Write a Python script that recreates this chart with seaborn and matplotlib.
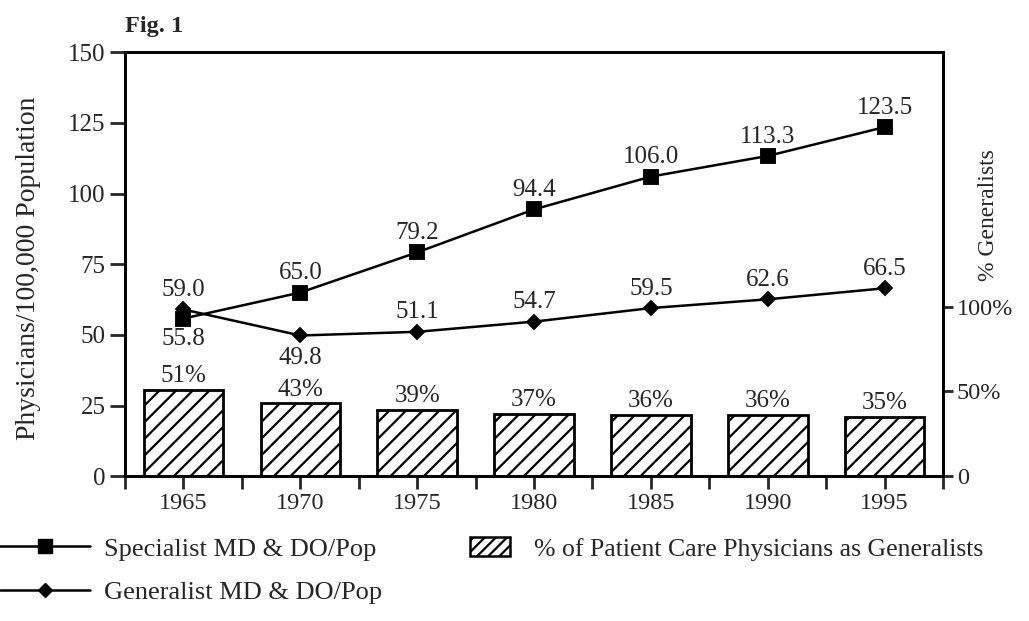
import matplotlib
matplotlib.use('Agg')
import matplotlib.pyplot as plt
import numpy as np
import pandas as pd
import seaborn as sns
from matplotlib.lines import Line2D
from matplotlib.patches import Patch

# Data
years = ['1965', '1970', '1975', '1980', '1985', '1990', '1995']
specialist = [55.8, 65.0, 79.2, 94.4, 106.0, 113.3, 123.5]
generalist = [59.0, 49.8, 51.1, 54.7, 59.5, 62.6, 66.5]
pct_generalists = [51, 43, 39, 37, 36, 36, 35]

df = pd.DataFrame({'year': years, 'specialist': specialist,
                   'generalist': generalist, 'pct': pct_generalists})

sns.set_style('ticks')
plt.rcParams['font.family'] = ['Liberation Serif', 'DejaVu Serif']
plt.rcParams['hatch.linewidth'] = 1.6
plt.rcParams['hatch.color'] = 'black'

fig = plt.figure(figsize=(10.29, 6.21), dpi=100)
ax = fig.add_axes([0.1215, 0.233, 0.795, 0.683])
ax2 = ax.twinx()

# bars: % generalists on right axis
sns.barplot(data=df, x='year', y='pct', ax=ax2, color='white', saturation=1,
            edgecolor='black', linewidth=2, hatch='//', width=0.68, errorbar=None)
ax2.bar_label(ax2.containers[0], labels=[f'{p}%' for p in pct_generalists],
              padding=2, fontsize=18)

# lines on the left axis
sns.pointplot(data=df, x='year', y='specialist', ax=ax, color='black', markers='s',
              linestyles='-', markersize=10, linewidth=1.8, errorbar=None)
sns.pointplot(data=df, x='year', y='generalist', ax=ax, color='black', markers='D',
              linestyles='-', markersize=7.5, linewidth=1.8, errorbar=None)

ax.set_zorder(ax2.get_zorder() + 1)
ax.patch.set_visible(False)

# value labels (1965 specialist and 1970 generalist sit below their markers)
for i, v in enumerate(specialist):
    below = i == 0
    ax.annotate(f'{v:.1f}', (i, v), xytext=(0, -7 if below else 6), textcoords='offset points',
                ha='center', va='top' if below else 'bottom', fontsize=18)
for i, v in enumerate(generalist):
    below = i == 1
    ax.annotate(f'{v:.1f}', (i, v), xytext=(0, -8 if below else 6), textcoords='offset points',
                ha='center', va='top' if below else 'bottom', fontsize=18)

ax.set_ylim(0, 150)
ax.set_yticks(range(0, 151, 25))
ax2.set_ylim(0, 250)
ax2.set_yticks([0, 50, 100], labels=['0', '50%', '100%'])
ax.set_xlim(-0.5, len(years) - 0.5)
ax.set_xticks(range(len(years)), labels=years)
ax.set_xticks(np.arange(-0.5, len(years), 1), minor=True)

ax.set_xlabel('')
ax.set_ylabel('Physicians/100,000 Population', fontsize=20)
ax.yaxis.set_label_coords(-0.103, 0.49)
ax2.set_ylabel('% Generalists', fontsize=17)
ax2.yaxis.set_label_coords(1.043, 0.617)

for a in (ax, ax2):
    for s in a.spines.values():
        s.set_linewidth(2)
        s.set_color('black')
ax.tick_params(axis='y', which='major', direction='out', length=11, width=2, labelsize=18, pad=3)
ax.tick_params(axis='x', which='both', direction='out', length=9, width=2, labelsize=17.5, pad=3)
ax2.tick_params(axis='y', direction='out', length=7, width=2, labelsize=17.5, pad=3)

fig.text(0.121, 0.957, 'Fig. 1', fontsize=17.5, fontweight='bold', va='center')

# legends below the plot
line_handles = [
    Line2D([], [], color='black', marker='s', markersize=10, lw=1.8),
    Line2D([], [], color='black', marker='D', markersize=7.5, lw=1.8),
]
fig.legend(handles=line_handles, labels=['Specialist MD & DO/Pop', 'Generalist MD & DO/Pop'],
           loc='upper left', bbox_to_anchor=(0.0, 0.135), frameon=False, fontsize=19,
           handlelength=3.4, handletextpad=0.55, labelspacing=0.75,
           borderpad=0, borderaxespad=0)
fig.legend(handles=[Patch(facecolor='white', edgecolor='black', hatch='///', lw=1.8)],
           labels=['% of Patient Care Physicians as Generalists'],
           loc='upper left', bbox_to_anchor=(0.457, 0.135), frameon=False, fontsize=18.5,
           handlelength=1.55, handleheight=0.75, handletextpad=0.95,
           borderpad=0, borderaxespad=0)

fig.savefig('out.png', dpi=100)
